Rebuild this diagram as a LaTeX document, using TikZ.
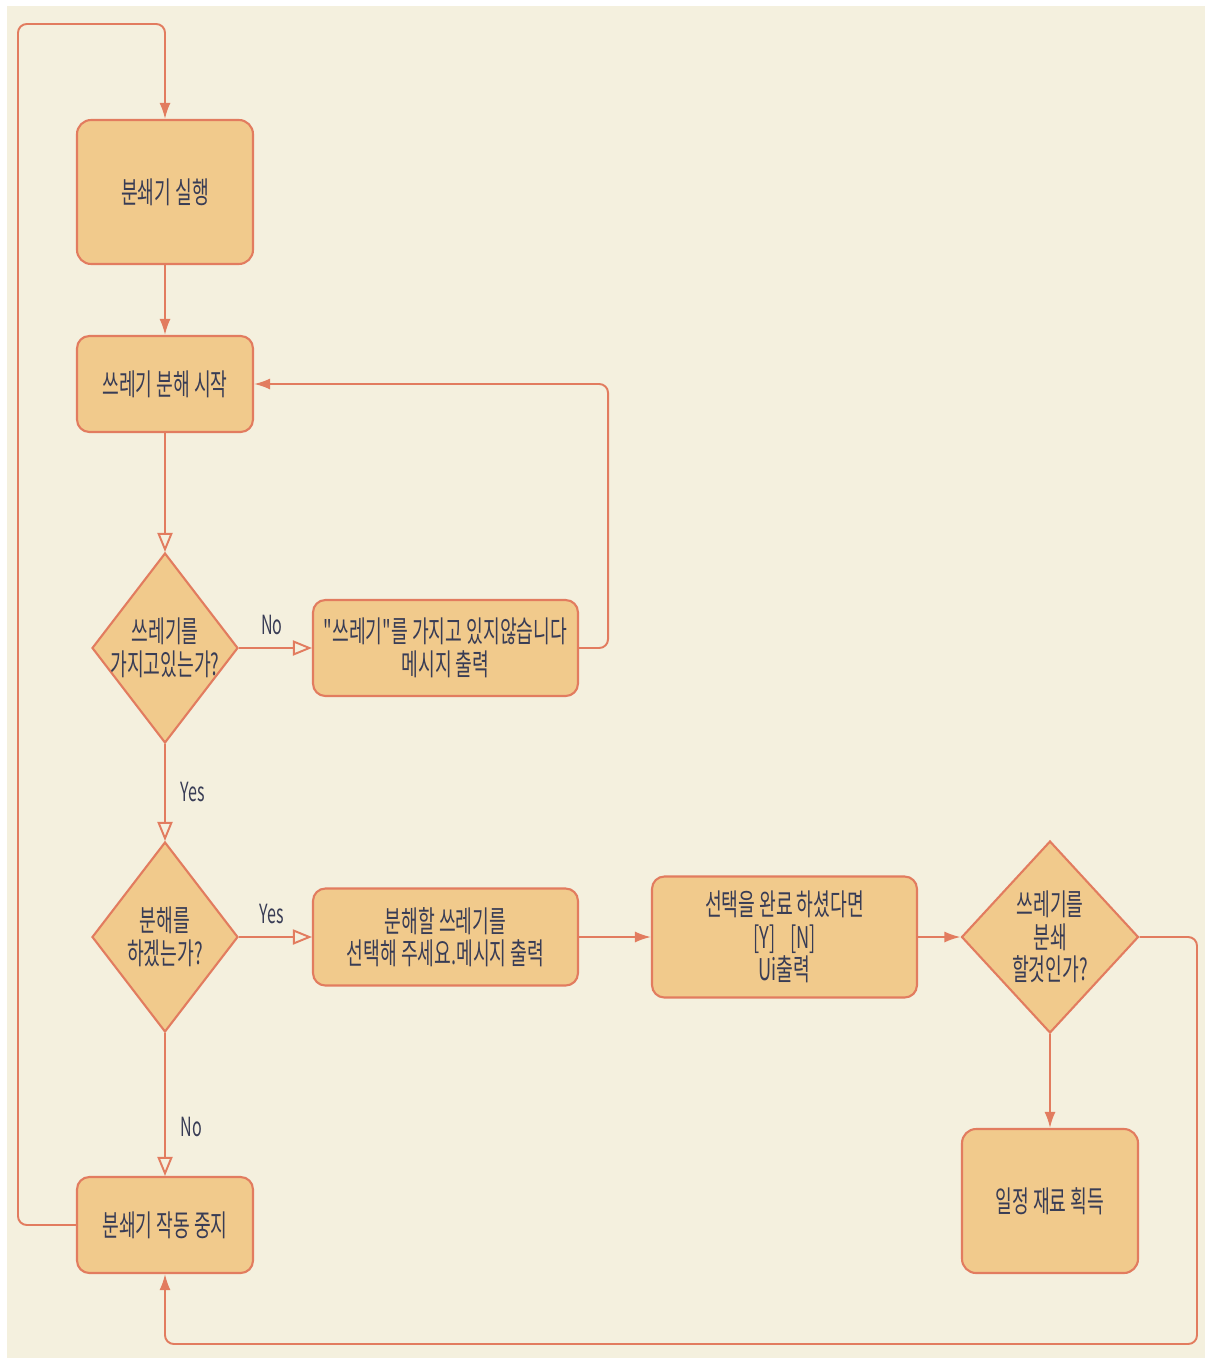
\documentclass[tikz,border=0pt]{standalone}
\usepackage{fontspec}
\setmainfont{Noto Sans CJK KR}[FakeStretch=0.61, Ligatures=TeXOff]
\usepackage{xcolor}
\usetikzlibrary{shapes.geometric, arrows.meta}
\definecolor{bgcream}{HTML}{F4F0DE}
\definecolor{boxfill}{HTML}{F1CA8C}
\definecolor{edgeline}{HTML}{E27C5F}
\definecolor{inktext}{HTML}{383C55}
\def\nudge{.02}
\tikzset{box/.style={draw=edgeline, fill=boxfill, line width=1.2pt, rounded corners=7pt, text=inktext, align=center, inner sep=0pt, font=\fontsize{17pt}{18.5pt}\selectfont},
  choice/.style={diamond, draw=edgeline, fill=boxfill, line width=1.2pt, inner sep=0pt, minimum width=2.92cm, minimum height=3.8cm},
  choicetext/.style={text=inktext, align=center, font=\fontsize{17pt}{18.5pt}\selectfont},
  flow/.style={edgeline, line width=1.1pt, rounded corners=5pt, -{Latex[length=0.32cm, width=0.22cm]}},
  flowopen/.style={edgeline, line width=1.1pt, -{Triangle[open, length=0.38cm, width=0.3cm, fill=bgcream]}},
  answer/.style={text=inktext, font=\fontsize{15pt}{16pt}\selectfont}}

\begin{document}
\begin{tikzpicture}[x=\nudge cm, y=-\nudge cm]
      % Background
      \useasboundingbox (0,0) rectangle (1205,1358);
      \fill[bgcream] (7,6) rectangle (1205,1358);

      % Boxes
      \node[box, minimum width=3.52cm, minimum height=2.88cm, rounded corners=8pt] (start) at (165,192) {분쇄기 실행};
      \node[box, minimum width=3.52cm, minimum height=1.92cm] (begin) at (165,384) {쓰레기 분해 시작};
      \node[box, minimum width=5.3cm, minimum height=1.92cm] (nomsg) at (445.5,648) {"쓰레기"를 가지고 있지않습니다\\메시지 출력};
      \node[box, minimum width=5.3cm, minimum height=1.94cm] (pick) at (445.5,937) {분해할 쓰레기를\\선택해 주세요.메시지 출력};
      \node[box, minimum width=5.3cm, minimum height=2.42cm] (confirm) at (784.5,937) {선택을 완료 하셨다면\\{[Y]}\hspace{0.3cm}[N]\\Ui출력};
      \node[box, minimum width=3.52cm, minimum height=2.88cm, rounded corners=8pt] (gain) at (1050,1201) {일정 재료 획득};
      \node[box, minimum width=3.52cm, minimum height=1.92cm] (stop) at (165,1225) {분쇄기 작동 중지};

      % Questions
      \node[choice] (has) at (165,648) {};
      \node[choicetext] (hastext) at (has) {쓰레기를\\가지고있는가?};
      \node[choice] (split) at (165,937) {};
      \node[choicetext] (splittext) at (split) {분해를\\하겠는가?};
      \node[choice, minimum width=3.54cm, minimum height=3.84cm] (grind) at (1050,937) {};
      \node[choicetext] (grindtext) at (grind) {쓰레기를\\분쇄\\할것인가?};

      % Arrows
      \draw[flow] (stop.west) -| (18,24) -| (start.north);
      \draw[flow] (start) -- (begin);
      \draw[flowopen] (begin) -- (has);
      \draw[flowopen] (has) -- (nomsg) node[answer, pos=0.45, above=0.12cm] {No};
      \draw[flow] (nomsg.east) -- ++(29,0) |- (begin.east);
      \draw[flowopen] (has) -- (split) node[answer, pos=0.5, right=0.18cm] {Yes};
      \draw[flowopen] (split) -- (pick) node[answer, pos=0.45, above=0.12cm] {Yes};
      \draw[flow] (pick) -- (confirm);
      \draw[flow] (confirm) -- (grind);
      \draw[flow] (grind) -- (gain);
      \draw[flowopen] (split) -- (stop) node[answer, pos=0.66, right=0.18cm] {No};
      \draw[flow] (grind.east) -| (1197,1344) -| (stop.south);
\end{tikzpicture}
\end{document}
